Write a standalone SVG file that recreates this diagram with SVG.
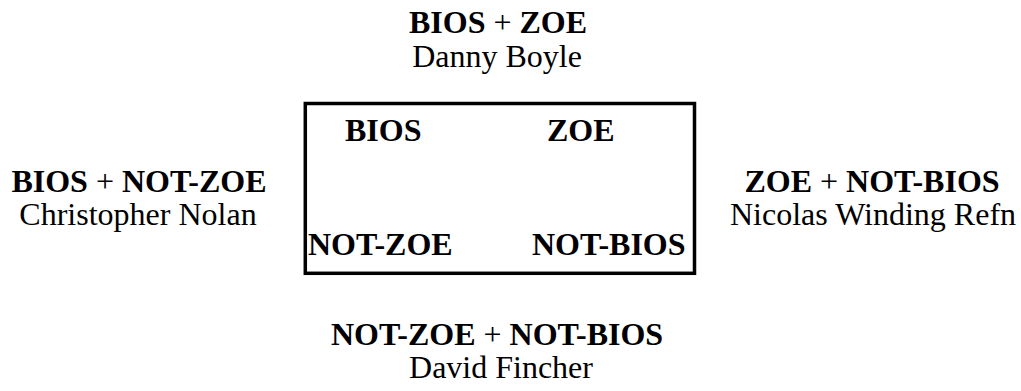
<svg xmlns="http://www.w3.org/2000/svg" width="1021" height="391" viewBox="0 0 1021 391">
  <style>
    text { font-family: "Liberation Serif", "Times New Roman", serif; font-size: 32px; fill: #000; }
    .b { font-weight: bold; }
    .n { font-weight: normal; }
    .c { text-anchor: middle; }
    .box { fill: none; stroke: #000; stroke-width: 3.5; }
  </style>
  <rect width="1021" height="391" fill="#fff"/>

  <!-- central square with the four quadrant terms -->
  <g id="square">
    <rect class="box" x="305.3" y="103.5" width="389.2" height="169.8"/>
    <text class="b" x="345" y="141">BIOS</text>
    <text class="b" x="547" y="141">ZOE</text>
    <text class="b" x="308" y="255">NOT-ZOE</text>
    <text class="b" x="532" y="255">NOT-BIOS</text>
  </g>

  <g id="top">
    <text class="b c" x="498" y="33">BIOS <tspan class="n">+</tspan> ZOE</text>
    <text class="c" x="497" y="67">Danny Boyle</text>
  </g>

  <g id="left">
    <text class="b c" x="139" y="192">BIOS <tspan class="n">+</tspan> NOT-ZOE</text>
    <text class="c" x="138" y="225">Christopher Nolan</text>
  </g>

  <g id="right">
    <text class="b c" x="872" y="192">ZOE <tspan class="n">+</tspan> NOT-BIOS</text>
    <text class="c" x="873" y="225">Nicolas Winding Refn</text>
  </g>

  <g id="bottom">
    <text class="b c" x="497" y="345">NOT-ZOE <tspan class="n">+</tspan> NOT-BIOS</text>
    <text class="c" x="501" y="378">David Fincher</text>
  </g>

  <g id="connectors"/>
</svg>
